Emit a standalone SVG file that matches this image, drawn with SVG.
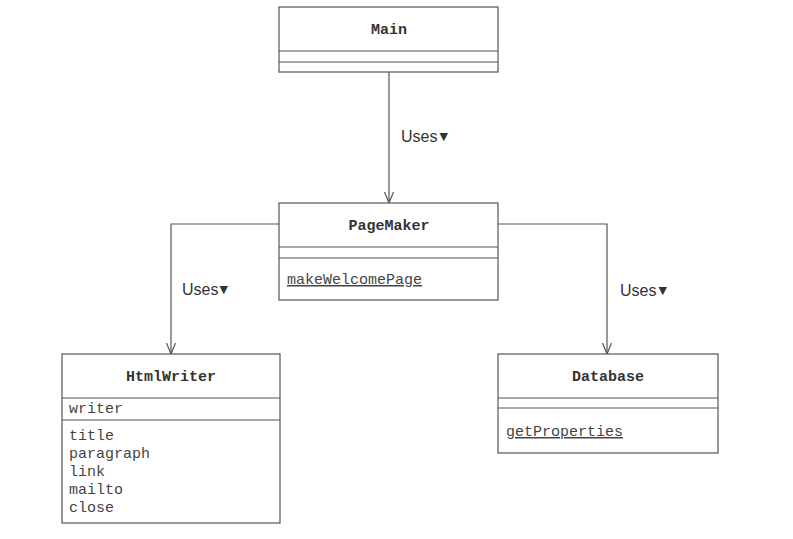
<svg xmlns="http://www.w3.org/2000/svg" width="793" height="539" viewBox="0 0 793 539">
<style>
.box{fill:#fff;stroke:#555;stroke-width:1.2}
.div{stroke:#555;stroke-width:1.2}
.t{font-family:"Liberation Mono","DejaVu Sans Mono",monospace;font-size:15px;fill:#444}
.tb{font-family:"Liberation Mono","DejaVu Sans Mono",monospace;font-size:15px;font-weight:bold;fill:#333;text-anchor:middle}
.u{text-decoration:underline}
.lbl{font-family:"Liberation Sans",Arial,sans-serif;font-size:16px;fill:#333}
.tri{font-family:"DejaVu Sans",sans-serif;font-size:11px}
.con{fill:none;stroke:#555;stroke-width:1.2}
</style>
<defs>
<marker id="open" markerWidth="12" markerHeight="12" refX="11" refY="5" orient="auto" markerUnits="userSpaceOnUse" viewBox="0 0 12 10">
<path d="M0,0.5 L11,5 L0,9.5" fill="none" stroke="#555" stroke-width="1.2"/>
</marker>
</defs>
<rect width="793" height="539" fill="#fff"/>
<g id="connectors">
<path class="con" d="M389,72 V203" marker-end="url(#open)"/>
<path class="con" d="M279,224 H171 V354" marker-end="url(#open)"/>
<path class="con" d="M498,224 H607 V354" marker-end="url(#open)"/>
<text class="lbl" x="401" y="142">Uses<tspan class="tri" dx="2" dy="-2">▼</tspan></text>
<text class="lbl" x="182" y="295">Uses<tspan class="tri" dx="1" dy="-2">▼</tspan></text>
<text class="lbl" x="620" y="296">Uses<tspan class="tri" dx="2" dy="-2">▼</tspan></text>
</g>
<g id="Main">
<rect class="box" x="279" y="7" width="219" height="65"/>
<line class="div" x1="279" y1="51" x2="498" y2="51"/>
<line class="div" x1="279" y1="62" x2="498" y2="62"/>
<text class="tb" x="389" y="34">Main</text>
</g>
<g id="PageMaker">
<rect class="box" x="279" y="203" width="219" height="97"/>
<line class="div" x1="279" y1="247" x2="498" y2="247"/>
<line class="div" x1="279" y1="258" x2="498" y2="258"/>
<text class="tb" x="389" y="230">PageMaker</text>
<text class="t u" x="287" y="284">makeWelcomePage</text>
</g>
<g id="HtmlWriter">
<rect class="box" x="62" y="354" width="218" height="169"/>
<line class="div" x1="62" y1="398" x2="280" y2="398"/>
<line class="div" x1="62" y1="420" x2="280" y2="420"/>
<text class="tb" x="171" y="381">HtmlWriter</text>
<text class="t" x="69" y="413">writer</text>
<text class="t" x="69" y="440">title</text>
<text class="t" x="69" y="458">paragraph</text>
<text class="t" x="69" y="476">link</text>
<text class="t" x="69" y="494">mailto</text>
<text class="t" x="69" y="512">close</text>
</g>
<g id="Database">
<rect class="box" x="498" y="354" width="220" height="99"/>
<line class="div" x1="498" y1="398" x2="718" y2="398"/>
<line class="div" x1="498" y1="408" x2="718" y2="408"/>
<text class="tb" x="608" y="381">Database</text>
<text class="t u" x="506" y="436">getProperties</text>
</g>
</svg>
